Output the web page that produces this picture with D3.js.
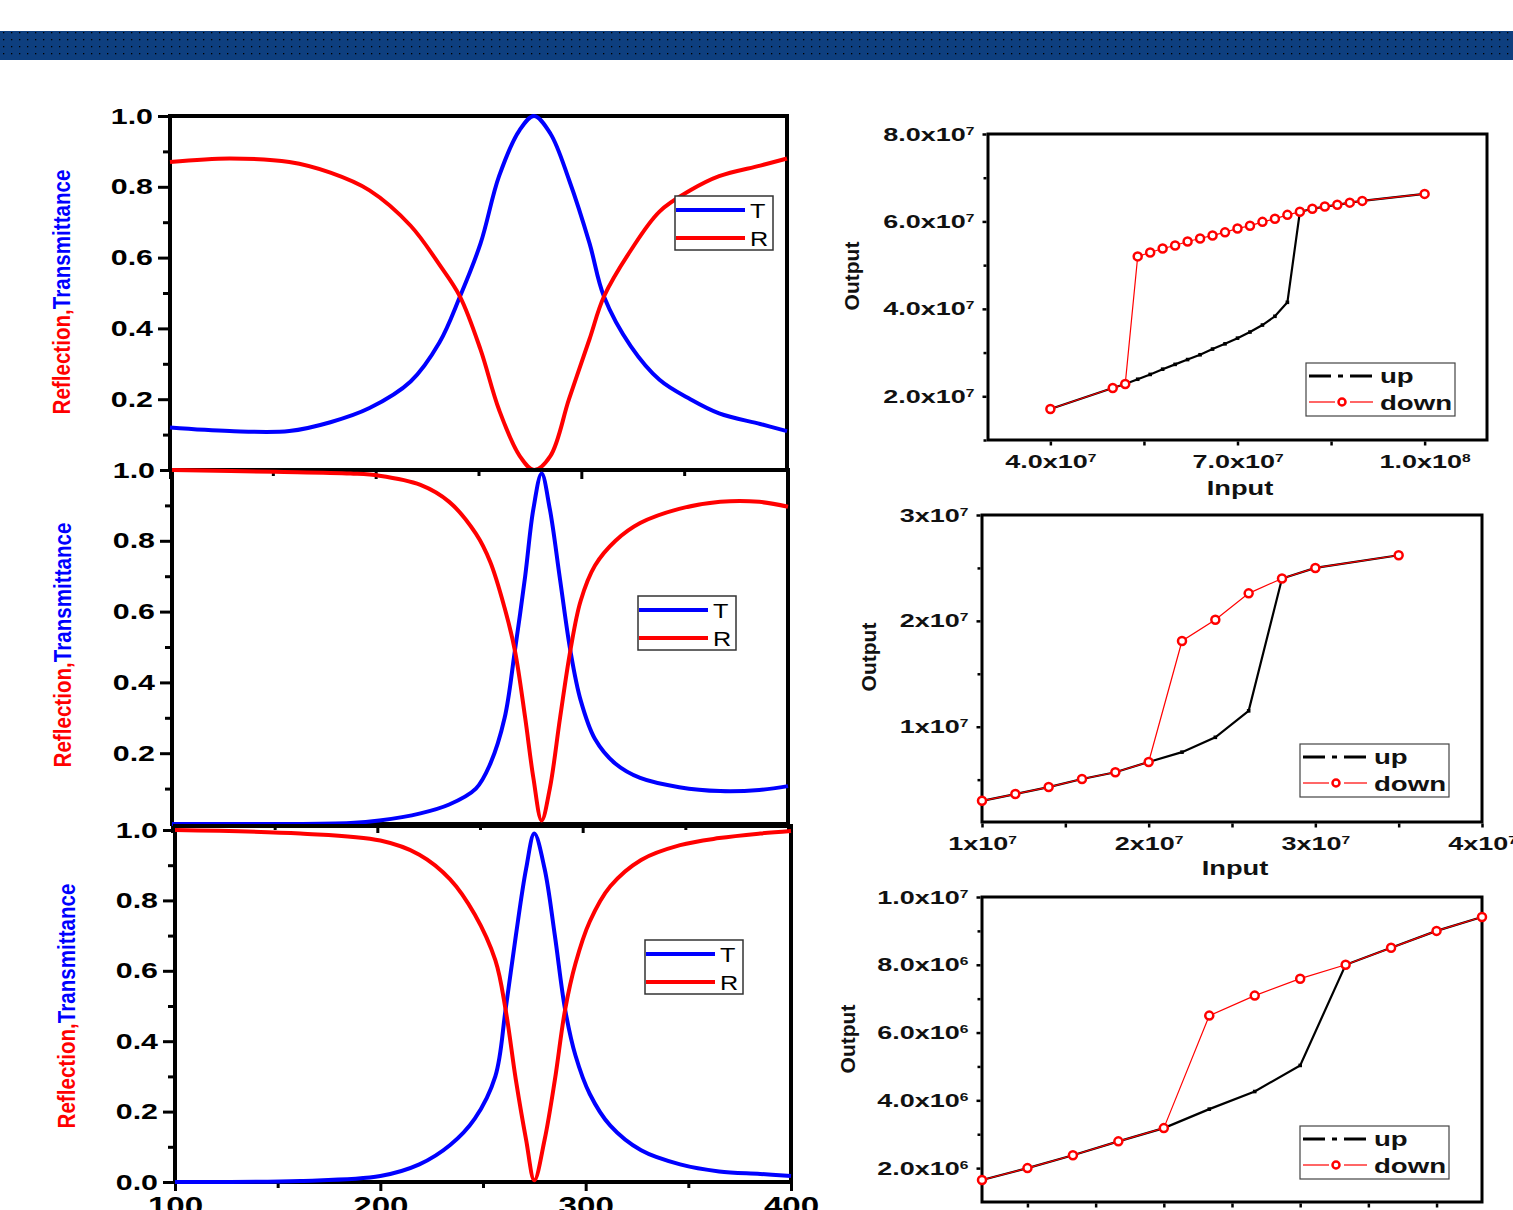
<!DOCTYPE html>
<html>
<head>
<meta charset="utf-8">
<script src="https://cdn.jsdelivr.net/npm/d3@7"></script>
<style>
  body { margin: 0; background: #fff; }
  svg { display: block; }
  text { font-family: "Liberation Sans", Arial, sans-serif; }
</style>
</head>
<body>
<svg id="fig" width="1513" height="1210"></svg>
<script>
/* ---- left column: reflection / transmittance spectra ---- */
const p1Wave = [100, 129, 158, 178, 197, 217, 231, 241, 251, 260, 270, 277, 285, 294, 304, 311, 324, 338, 353, 367, 387, 400];
const p1T    = [0.12, 0.11, 0.11, 0.135, 0.175, 0.25, 0.36, 0.49, 0.64, 0.83, 0.96, 1.00, 0.95, 0.82, 0.64, 0.49, 0.35, 0.255, 0.20, 0.16, 0.13, 0.11];
const p1R    = [0.87, 0.88, 0.87, 0.84, 0.79, 0.69, 0.58, 0.49, 0.34, 0.17, 0.04, 0.00, 0.04, 0.20, 0.37, 0.49, 0.62, 0.73, 0.79, 0.83, 0.86, 0.88];

const p2Wave = [100, 150, 187, 201, 221, 235, 248, 255, 262, 267, 272, 276, 280, 284, 289, 294, 299, 306, 316, 328, 347, 367, 386, 400];
const p2T    = [0, 0, 0.003, 0.01, 0.03, 0.055, 0.10, 0.17, 0.30, 0.49, 0.70, 0.89, 0.99, 0.89, 0.69, 0.49, 0.35, 0.24, 0.17, 0.13, 0.104, 0.093, 0.096, 0.107];
const p2R    = [1.0, 0.995, 0.99, 0.984, 0.958, 0.91, 0.82, 0.74, 0.61, 0.49, 0.30, 0.13, 0.01, 0.10, 0.30, 0.49, 0.63, 0.73, 0.80, 0.85, 0.89, 0.91, 0.91, 0.896];

const p3Wave = [100, 161, 200, 219, 234, 246, 256, 261, 266, 271, 275, 280, 285, 290, 295, 302, 312, 327, 346, 365, 385, 400];
const p3T    = [0.0, 0.003, 0.017, 0.05, 0.105, 0.18, 0.30, 0.49, 0.70, 0.89, 0.99, 0.89, 0.70, 0.49, 0.36, 0.25, 0.16, 0.09, 0.05, 0.03, 0.023, 0.017];
const p3R    = [1.0, 0.99, 0.97, 0.93, 0.86, 0.76, 0.63, 0.49, 0.29, 0.12, 0.005, 0.12, 0.29, 0.49, 0.62, 0.74, 0.84, 0.915, 0.957, 0.977, 0.99, 0.997];

const waveTicks  = [100, 200, 300, 400];
const waveMinor  = [150, 250, 350];
const fracTicks  = [0, 0.2, 0.4, 0.6, 0.8, 1.0];
const fracMinor  = [0.1, 0.3, 0.5, 0.7, 0.9];

/* ---- right column: input / output hysteresis ---- */
const r1UpIn    = [4.0e7, 5.0e7, 5.2e7, 5.4e7, 5.6e7, 5.8e7, 6.0e7, 6.2e7, 6.4e7, 6.6e7, 6.8e7, 7.0e7, 7.2e7, 7.4e7, 7.6e7, 7.8e7, 8.0e7, 8.2e7, 8.4e7, 8.6e7, 8.8e7, 9.0e7, 1.0e8];
const r1UpOut   = [1.71e7, 2.19e7, 2.28e7, 2.39e7, 2.50e7, 2.62e7, 2.73e7, 2.84e7, 2.95e7, 3.08e7, 3.20e7, 3.33e7, 3.47e7, 3.63e7, 3.83e7, 4.15e7, 6.22e7, 6.29e7, 6.34e7, 6.38e7, 6.43e7, 6.47e7, 6.63e7];
const r1DownIn  = [4.0e7, 5.0e7, 5.2e7, 5.4e7, 5.6e7, 5.8e7, 6.0e7, 6.2e7, 6.4e7, 6.6e7, 6.8e7, 7.0e7, 7.2e7, 7.4e7, 7.6e7, 7.8e7, 8.0e7, 8.2e7, 8.4e7, 8.6e7, 8.8e7, 9.0e7, 1.0e8];
const r1DownOut = [1.71e7, 2.19e7, 2.28e7, 5.20e7, 5.29e7, 5.38e7, 5.45e7, 5.54e7, 5.61e7, 5.68e7, 5.75e7, 5.84e7, 5.90e7, 5.99e7, 6.06e7, 6.15e7, 6.22e7, 6.29e7, 6.34e7, 6.38e7, 6.43e7, 6.47e7, 6.63e7];
const r1XTicks = [4e7, 7e7, 1e8],  r1XMinor = [5.5e7, 8.5e7];
const r1YTicks = [2e7, 4e7, 6e7, 8e7], r1YMinor = [1e7, 3e7, 5e7, 7e7];

const r2UpIn    = [1.0e7, 1.2e7, 1.4e7, 1.6e7, 1.8e7, 2.0e7, 2.2e7, 2.4e7, 2.6e7, 2.8e7, 3.0e7, 3.5e7];
const r2UpOut   = [3.0e6, 3.64e6, 4.3e6, 5.06e6, 5.7e6, 6.67e6, 7.6e6, 9.0e6, 11.5e6, 24.0e6, 25.0e6, 26.2e6];
const r2DownIn  = [1.0e7, 1.2e7, 1.4e7, 1.6e7, 1.8e7, 2.0e7, 2.2e7, 2.4e7, 2.6e7, 2.8e7, 3.0e7, 3.5e7];
const r2DownOut = [3.0e6, 3.64e6, 4.3e6, 5.06e6, 5.7e6, 6.67e6, 18.1e6, 20.1e6, 22.6e6, 24.0e6, 25.0e6, 26.2e6];
const r2XTicks = [1e7, 2e7, 3e7, 4e7], r2XMinor = [1.5e7, 2.5e7, 3.5e7];
const r2YTicks = [1e7, 2e7, 3e7], r2YMinor = [5e6, 1.5e7, 2.5e7];

const r3UpIn    = [3e6, 4e6, 5e6, 6e6, 7e6, 8e6, 9e6, 1.0e7, 1.1e7, 1.2e7, 1.3e7, 1.4e7];
const r3UpOut   = [1.65e6, 2.0e6, 2.38e6, 2.79e6, 3.18e6, 3.74e6, 4.26e6, 5.03e6, 8.0e6, 8.5e6, 9.0e6, 9.41e6];
const r3DownIn  = [3e6, 4e6, 5e6, 6e6, 7e6, 8e6, 9e6, 1.0e7, 1.1e7, 1.2e7, 1.3e7, 1.4e7];
const r3DownOut = [1.65e6, 2.0e6, 2.38e6, 2.79e6, 3.18e6, 6.5e6, 7.09e6, 7.59e6, 8.0e6, 8.5e6, 9.0e6, 9.41e6];
const r3XTicks = [4e6, 7e6, 1e7, 1.3e7], r3XMinor = [5.5e6, 8.5e6, 1.15e7];
const r3YTicks = [2e6, 4e6, 6e6, 8e6, 1e7], r3YMinor = [3e6, 5e6, 7e6, 9e6];

const svg = d3.select("#fig");
const defs = svg.append("defs");

/* banner strip with dotted texture */
const pat = defs.append("pattern")
  .attr("id", "dots").attr("patternUnits", "userSpaceOnUse")
  .attr("x", 0).attr("y", 31).attr("width", 8).attr("height", 7);
pat.append("rect").attr("width", 8).attr("height", 7).attr("fill", "#0e3f7f");
pat.append("rect").attr("x", 3).attr("y", 1).attr("width", 1.3).attr("height", 1.3).attr("fill", "#000");
svg.append("rect").attr("x", 0).attr("y", 31).attr("width", 1513).attr("height", 29).attr("fill", "url(#dots)");

/* stretch tick labels horizontally, like the wide glyphs in the source */
function stretchLabels(g, sx) {
  g.selectAll(".tick text").each(function () {
    const t = d3.select(this);
    const x = +t.attr("x") || 0, y = +t.attr("y") || 0;
    t.attr("x", null).attr("y", null)
      .attr("transform", `translate(${x},${y}) scale(${sx},1)`);
  });
}

function styleAxis(g, tickW) {
  g.select(".domain").remove();
  g.selectAll(".tick line").attr("stroke", "#000").attr("stroke-width", tickW);
}

/* ================= left panels ================= */
const leftPanels = [
  { wave: p1Wave, T: p1T, R: p1R, left: 170, right: 787, zero: 470, one: 116, frameTop: 116,
    yLabels: [0.2, 0.4, 0.6, 0.8, 1.0], xLabels: false, legend: [675, 196], ylab: [62, 292] },
  { wave: p2Wave, T: p2T, R: p2R, left: 172, right: 788, zero: 824, one: 470, frameTop: 470,
    yLabels: [0.2, 0.4, 0.6, 0.8, 1.0], xLabels: false, legend: [638, 596], ylab: [63, 645] },
  { wave: p3Wave, T: p3T, R: p3R, left: 175, right: 791, zero: 1182, one: 830, frameTop: 826,
    yLabels: fracTicks, xLabels: true, legend: [645, 940], ylab: [67, 1006] }
];

leftPanels.forEach(p => {
  const x = d3.scaleLinear().domain([100, 400]).range([p.left, p.right]);
  const y = d3.scaleLinear().domain([0, 1]).range([p.zero, p.one]);
  const g = svg.append("g");

  g.append("rect")
    .attr("x", p.left).attr("y", p.frameTop)
    .attr("width", p.right - p.left).attr("height", p.zero - p.frameTop)
    .attr("fill", "none").attr("stroke", "#000").attr("stroke-width", 4);

  /* y axis */
  const ya = g.append("g").attr("transform", `translate(${p.left - 2},0)`)
    .call(d3.axisLeft(y).tickValues(p.yLabels).tickSize(10).tickPadding(5).tickFormat(d3.format(".1f")));
  styleAxis(ya, 3);
  ya.selectAll(".tick text").attr("font-size", 22).attr("font-weight", "bold").attr("fill", "#000");
  stretchLabels(ya, 1.38);
  const yam = g.append("g").attr("transform", `translate(${p.left - 2},0)`)
    .call(d3.axisLeft(y).tickValues(fracMinor).tickSize(5).tickFormat(""));
  styleAxis(yam, 3);

  /* x axis (labels only on the bottom panel, clipped by the page edge as in the source) */
  const xa = g.append("g").attr("transform", `translate(0,${p.zero + 2})`)
    .call(d3.axisBottom(x).tickValues(waveTicks).tickSize(7).tickPadding(6)
      .tickFormat(p.xLabels ? d3.format("d") : ""));
  styleAxis(xa, 3);
  xa.selectAll(".tick text").attr("font-size", 24).attr("font-weight", "bold").attr("fill", "#000");
  stretchLabels(xa, 1.38);
  const xam = g.append("g").attr("transform", `translate(0,${p.zero + 2})`)
    .call(d3.axisBottom(x).tickValues(waveMinor).tickSize(4).tickFormat(""));
  styleAxis(xam, 3);

  /* curves */
  const line = d3.line().x(d => x(d[0])).y(d => y(d[1])).curve(d3.curveCatmullRom.alpha(0.5));
  g.append("path").datum(d3.zip(p.wave, p.T)).attr("d", line)
    .attr("fill", "none").attr("stroke", "#0000ff").attr("stroke-width", 4);
  g.append("path").datum(d3.zip(p.wave, p.R)).attr("d", line)
    .attr("fill", "none").attr("stroke", "#ff0000").attr("stroke-width", 4);

  /* legend */
  const [lx, ly] = p.legend;
  const lg = g.append("g").attr("transform", `translate(${lx},${ly})`);
  lg.append("rect").attr("width", 98).attr("height", 54)
    .attr("fill", "#fff").attr("stroke", "#333").attr("stroke-width", 1.5);
  [["T", "#0000ff", 14], ["R", "#ff0000", 42]].forEach(([lab, col, yy]) => {
    lg.append("line").attr("x1", 1).attr("x2", 70).attr("y1", yy).attr("y2", yy)
      .attr("stroke", col).attr("stroke-width", 4);
    lg.append("text").attr("transform", `translate(75,${yy + 8}) scale(1.2,1)`)
      .attr("font-size", 21).attr("fill", "#000").text(lab);
  });

  /* y label */
  const yl = g.append("text")
    .attr("transform", `translate(${p.ylab[0]},${p.ylab[1]}) rotate(-90)`)
    .attr("text-anchor", "middle").attr("dy", "0.35em")
    .attr("font-family", "'Liberation Sans Narrow','Arial Narrow','Liberation Sans',sans-serif")
    .attr("font-weight", "bold").attr("font-size", 24)
    .attr("textLength", 245).attr("lengthAdjust", "spacingAndGlyphs");
  yl.append("tspan").attr("fill", "#ff0000").text("Reflection,");
  yl.append("tspan").attr("fill", "#0000ff").text("Transmittance");
});

/* ================= right panels ================= */
const rightPanels = [
  { upIn: r1UpIn, upOut: r1UpOut, downIn: r1DownIn, downOut: r1DownOut,
    xDom: [3e7, 1.1e8], yDom: [1e7, 8e7], left: 988, right: 1487, top: 134, bottom: 440,
    xT: r1XTicks, xM: r1XMinor, yT: r1YTicks, yM: r1YMinor, dec: 1, xLabels: true,
    legend: [1306, 363], outLab: [852, 276], inLab: [1240, 495] },
  { upIn: r2UpIn, upOut: r2UpOut, downIn: r2DownIn, downOut: r2DownOut,
    xDom: [1e7, 4e7], yDom: [1e6, 3e7], left: 982, right: 1482, top: 515, bottom: 822,
    xT: r2XTicks, xM: r2XMinor, yT: r2YTicks, yM: r2YMinor, dec: 0, xLabels: true,
    legend: [1300, 744], outLab: [869, 657], inLab: [1235, 875] },
  { upIn: r3UpIn, upOut: r3UpOut, downIn: r3DownIn, downOut: r3DownOut,
    xDom: [3e6, 1.4e7], yDom: [1e6, 1e7], left: 982, right: 1482, top: 897, bottom: 1202,
    xT: r3XTicks, xM: r3XMinor, yT: r3YTicks, yM: r3YMinor, dec: 1, xLabels: false,
    legend: [1300, 1126], outLab: [848, 1039], inLab: null }
];

function sciLabels(g, dec) {
  g.selectAll(".tick text").each(function (d) {
    const t = d3.select(this);
    const e = Math.floor(Math.log10(d) + 1e-9);
    const m = (d / Math.pow(10, e)).toFixed(dec);
    t.text(null).attr("font-size", 19).attr("font-weight", "bold").attr("fill", "#111");
    t.append("tspan").text(m + "x10");
    t.append("tspan").attr("dy", "-0.55em").attr("font-size", 11).text(e);
  });
}

rightPanels.forEach(p => {
  const x = d3.scaleLinear().domain(p.xDom).range([p.left, p.right]);
  const y = d3.scaleLinear().domain(p.yDom).range([p.bottom, p.top]);
  const g = svg.append("g");

  g.append("rect")
    .attr("x", p.left).attr("y", p.top)
    .attr("width", p.right - p.left).attr("height", p.bottom - p.top)
    .attr("fill", "none").attr("stroke", "#000").attr("stroke-width", 3);

  const ya = g.append("g").attr("transform", `translate(${p.left - 1.5},0)`)
    .call(d3.axisLeft(y).tickValues(p.yT).tickSize(4).tickPadding(8));
  styleAxis(ya, 2.5);
  sciLabels(ya, p.dec);
  stretchLabels(ya, 1.42);
  const yam = g.append("g").attr("transform", `translate(${p.left - 1.5},0)`)
    .call(d3.axisLeft(y).tickValues(p.yM).tickSize(3).tickFormat(""));
  styleAxis(yam, 2.5);

  const xa = g.append("g").attr("transform", `translate(0,${p.bottom + 1.5})`)
    .call(d3.axisBottom(x).tickValues(p.xT).tickSize(4).tickPadding(9));
  styleAxis(xa, 2.5);
  if (p.xLabels) {
    sciLabels(xa, p.dec);
    stretchLabels(xa, 1.42);
  } else {
    xa.selectAll(".tick text").remove();
  }
  const xam = g.append("g").attr("transform", `translate(0,${p.bottom + 1.5})`)
    .call(d3.axisBottom(x).tickValues(p.xM).tickSize(4).tickFormat(""));
  styleAxis(xam, 2.5);

  /* up branch */
  const line = d3.line().x(d => x(d[0])).y(d => y(d[1]));
  const up = d3.zip(p.upIn, p.upOut);
  g.append("path").datum(up).attr("d", line)
    .attr("fill", "none").attr("stroke", "#000").attr("stroke-width", 2.2);
  g.selectAll(null).data(up).join("rect")
    .attr("x", d => x(d[0]) - 1.8).attr("y", d => y(d[1]) - 1.8)
    .attr("width", 3.6).attr("height", 3.6).attr("fill", "#000");

  /* down branch */
  const down = d3.zip(p.downIn, p.downOut);
  g.append("path").datum(down).attr("d", line)
    .attr("fill", "none").attr("stroke", "#ff0000").attr("stroke-width", 1.2);
  g.selectAll(null).data(down).join("circle")
    .attr("cx", d => x(d[0])).attr("cy", d => y(d[1])).attr("r", 4)
    .attr("fill", "#fff").attr("stroke", "#ff0000").attr("stroke-width", 2.5);

  /* legend */
  const [lx, ly] = p.legend;
  const lg = g.append("g").attr("transform", `translate(${lx},${ly})`);
  lg.append("rect").attr("width", 149).attr("height", 53)
    .attr("fill", "#fff").attr("stroke", "#444").attr("stroke-width", 1.2);
  lg.append("line").attr("x1", 3).attr("x2", 67).attr("y1", 13).attr("y2", 13)
    .attr("stroke", "#000").attr("stroke-width", 3).attr("stroke-dasharray", "22,7,5,7,22");
  lg.append("line").attr("x1", 3).attr("x2", 29).attr("y1", 39).attr("y2", 39)
    .attr("stroke", "#ff0000").attr("stroke-width", 1.2);
  lg.append("line").attr("x1", 44).attr("x2", 67).attr("y1", 39).attr("y2", 39)
    .attr("stroke", "#ff0000").attr("stroke-width", 1.2);
  lg.append("circle").attr("cx", 36).attr("cy", 39).attr("r", 3.5)
    .attr("fill", "#fff").attr("stroke", "#ff0000").attr("stroke-width", 2.5);
  [["up", 20], ["down", 47]].forEach(([lab, yy]) => {
    lg.append("text").attr("transform", `translate(74,${yy}) scale(1.38,1)`)
      .attr("font-size", 20).attr("font-weight", "bold").attr("fill", "#111").text(lab);
  });

  /* axis titles */
  g.append("text")
    .attr("transform", `translate(${p.outLab[0]},${p.outLab[1]}) rotate(-90)`)
    .attr("text-anchor", "middle").attr("dy", "0.35em")
    .attr("font-size", 21).attr("font-weight", "bold").attr("fill", "#111").text("Output");
  if (p.inLab) {
    g.append("text")
      .attr("transform", `translate(${p.inLab[0]},${p.inLab[1]}) scale(1.3,1)`)
      .attr("text-anchor", "middle")
      .attr("font-size", 21).attr("font-weight", "bold").attr("fill", "#111").text("Input");
  }
});
</script>
</body>
</html>
